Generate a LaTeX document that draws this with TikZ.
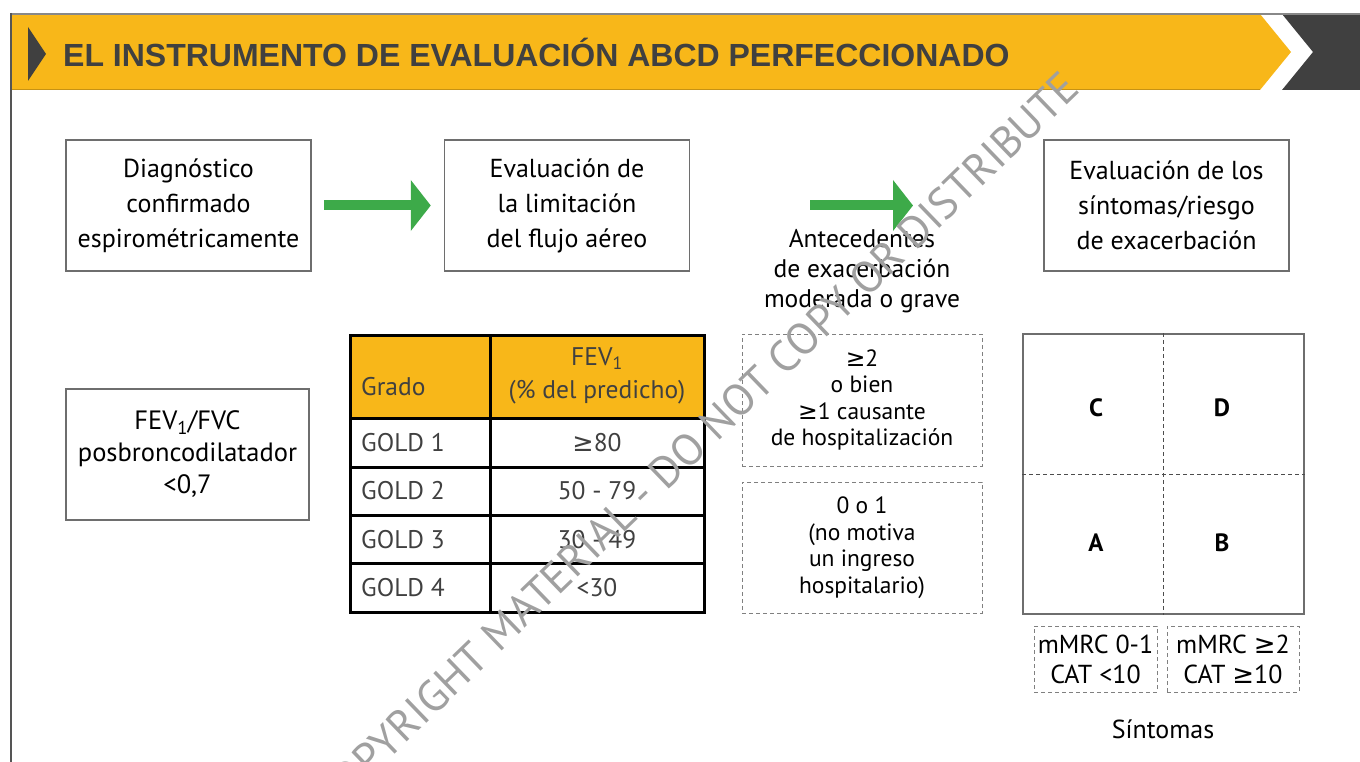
\documentclass[tikz,border=0pt]{standalone}
\usepackage{fontspec}
\setmainfont{PT Sans}
\newfontfamily\titlefont{Liberation Sans}
\newfontfamily\symfont{DejaVu Sans}
\newcommand\gsym{{\symfont\char"2265}}
\usetikzlibrary{arrows.meta,positioning}

\definecolor{goldyellow}{HTML}{F8B719}
\definecolor{darkgrey}{HTML}{404040}
\definecolor{arrowgreen}{HTML}{3DAA49}
\definecolor{framegrey}{HTML}{555555}
\definecolor{boxgrey}{HTML}{6E6E6E}
\definecolor{dashgrey}{HTML}{808080}
\definecolor{wmgrey}{HTML}{A0A0A0}

\begin{document}
\begin{tikzpicture}[x=1pt,y=-1pt,
        font=\fontsize{26}{35}\selectfont,
        stepbox/.style={draw=boxgrey, line width=1.5pt, minimum width=245pt,
          minimum height=131pt, align=center, inner sep=0pt},
        dashbox/.style={draw=dashgrey, line width=1pt, dash pattern=on 4pt off 3pt,
          align=center, inner sep=0pt},
        bigarrow/.style={arrowgreen, line width=10pt,
          -{Triangle[length=20pt,width=50pt]}},
        cell/.style={text=darkgrey, inner sep=0pt, font=\fontsize{25.5}{33}\selectfont},
        quad/.style={font=\fontsize{25}{25}\selectfont\bfseries}]

  \useasboundingbox (0,0) rectangle (1360,762);
  \clip (0,0) rectangle (1360,762);

  % header
  \fill[goldyellow] (11,14) -- (1260,14) -- (1291,52) -- (1260,90) -- (11,90) -- cycle;
  \fill[darkgrey] (1282,14) -- (1360,14) -- (1360,90) -- (1282,90) -- (1313,52) -- cycle;
  \draw[framegrey!70, line width=2pt] (10,14) -- (1360,14);
  \draw[goldyellow!80!black, line width=1pt] (11,90) -- (1260,90);
  \draw[framegrey, line width=2pt] (11,13) -- (11,762);
  \fill[darkgrey] (28,27) -- (46,54) -- (28,81) -- cycle;
  \node[anchor=west, text=darkgrey, inner sep=0pt,
        font=\titlefont\bfseries\fontsize{32}{32}\selectfont] (title) at (63,52)
        {EL INSTRUMENTO DE EVALUACIÓN ABCD PERFECCIONADO};

  % steps
  \node[stepbox] (diag) at (188.5,205.5) {Diagnóstico\\confirmado\\espirométricamente};
  \node[stepbox, right=132pt of diag] (flujo) {Evaluación de\\la limitación\\del flujo aéreo};
  \node[stepbox, right=353pt of flujo] (sintomas) {Evaluación de los\\síntomas/riesgo\\de exacerbación};
  \coordinate (tip2) at (913,205.5);

  \draw[bigarrow, shorten <=12pt, shorten >=13pt] (diag) -- (flujo);
  \draw[bigarrow, shorten <=120pt] (flujo.east) -- (tip2);

  % FEV1/FVC
  \node[stepbox, minimum width=243pt, font=\fontsize{26.5}{32}\selectfont] (ratio) at (187.5,454.5)
        {FEV\textsubscript{1}/FVC\\posbroncodilatador\\<0,7};

  % table
  \fill[goldyellow] (350,335) rectangle (704,418);
  \draw[black, line width=3pt] (350,335) rectangle (704,612);
  \draw[black, line width=3pt] (490,335) -- (490,612);
  \foreach \y in {418,467,515,563}
    \draw[black, line width=3pt] (350,\y) -- (704,\y);
  \node[cell, anchor=west] (grado) at (361,387) {Grado};
  \node[cell, align=center] (fevhead) at (597,376)
        {FEV\textsubscript{1}\\(\% del predicho)};
  \foreach \n/\y/\v in {1/443/\gsym80, 2/491/50 - 79, 3/540/30 - 49, 4/588/<30} {
    \node[cell, anchor=west] (gold\n) at (361,\y) {GOLD \n};
    \node[cell] (val\n) at (597,\y) {\v};
  }

  % exacerbations
  \node[align=center, font=\fontsize{25.5}{30}\selectfont] (antec) at (862,271)
        {Antecedentes\\de exacerbación\\moderada o grave};
  \node[dashbox, minimum width=240pt, minimum height=132pt,
        font=\fontsize{23.5}{26.5}\selectfont] (exhigh) at (862,400)
        {\gsym2\\o bien\\\gsym1 causante\\de hospitalización};
  \node[dashbox, minimum width=240pt, minimum height=131pt,
        font=\fontsize{23.5}{26.5}\selectfont] (exlow) at (862,547.5)
        {0 o 1\\(no motiva\\un ingreso\\hospitalario)};

  % ABCD grid
  \node[draw=boxgrey, line width=1.5pt, minimum width=281pt, minimum height=280pt,
        inner sep=0pt] (grid) at (1163.5,474) {};
  \draw[dashgrey!60!black, line width=1pt, dash pattern=on 4pt off 3pt]
        (grid.north) -- (grid.south) (grid.west) -- (grid.east);
  \node[quad] (qc) at (1096,408) {C};
  \node[quad] (qd) at (1222,408) {D};
  \node[quad] (qa) at (1096,543) {A};
  \node[quad] (qb) at (1222,543) {B};

  \node[dashbox, minimum width=123pt, minimum height=66pt,
        font=\fontsize{26}{30}\selectfont] (symlow) at (1095.5,659)
        {mMRC 0-1\\CAT <10};
  \node[dashbox, minimum width=132pt, minimum height=66pt,
        font=\fontsize{26}{30}\selectfont] (symhigh) at (1233,659)
        {mMRC \gsym2\\CAT \gsym10};
  \node (symlabel) at (1163,729) {Síntomas};

  % watermark
  \node[rotate=44, text=wmgrey, font=\fontsize{44}{44}\selectfont] (wm) at (696,442)
        {COPYRIGHT MATERIAL - DO NOT COPY OR DISTRIBUTE};
\end{tikzpicture}
\end{document}
